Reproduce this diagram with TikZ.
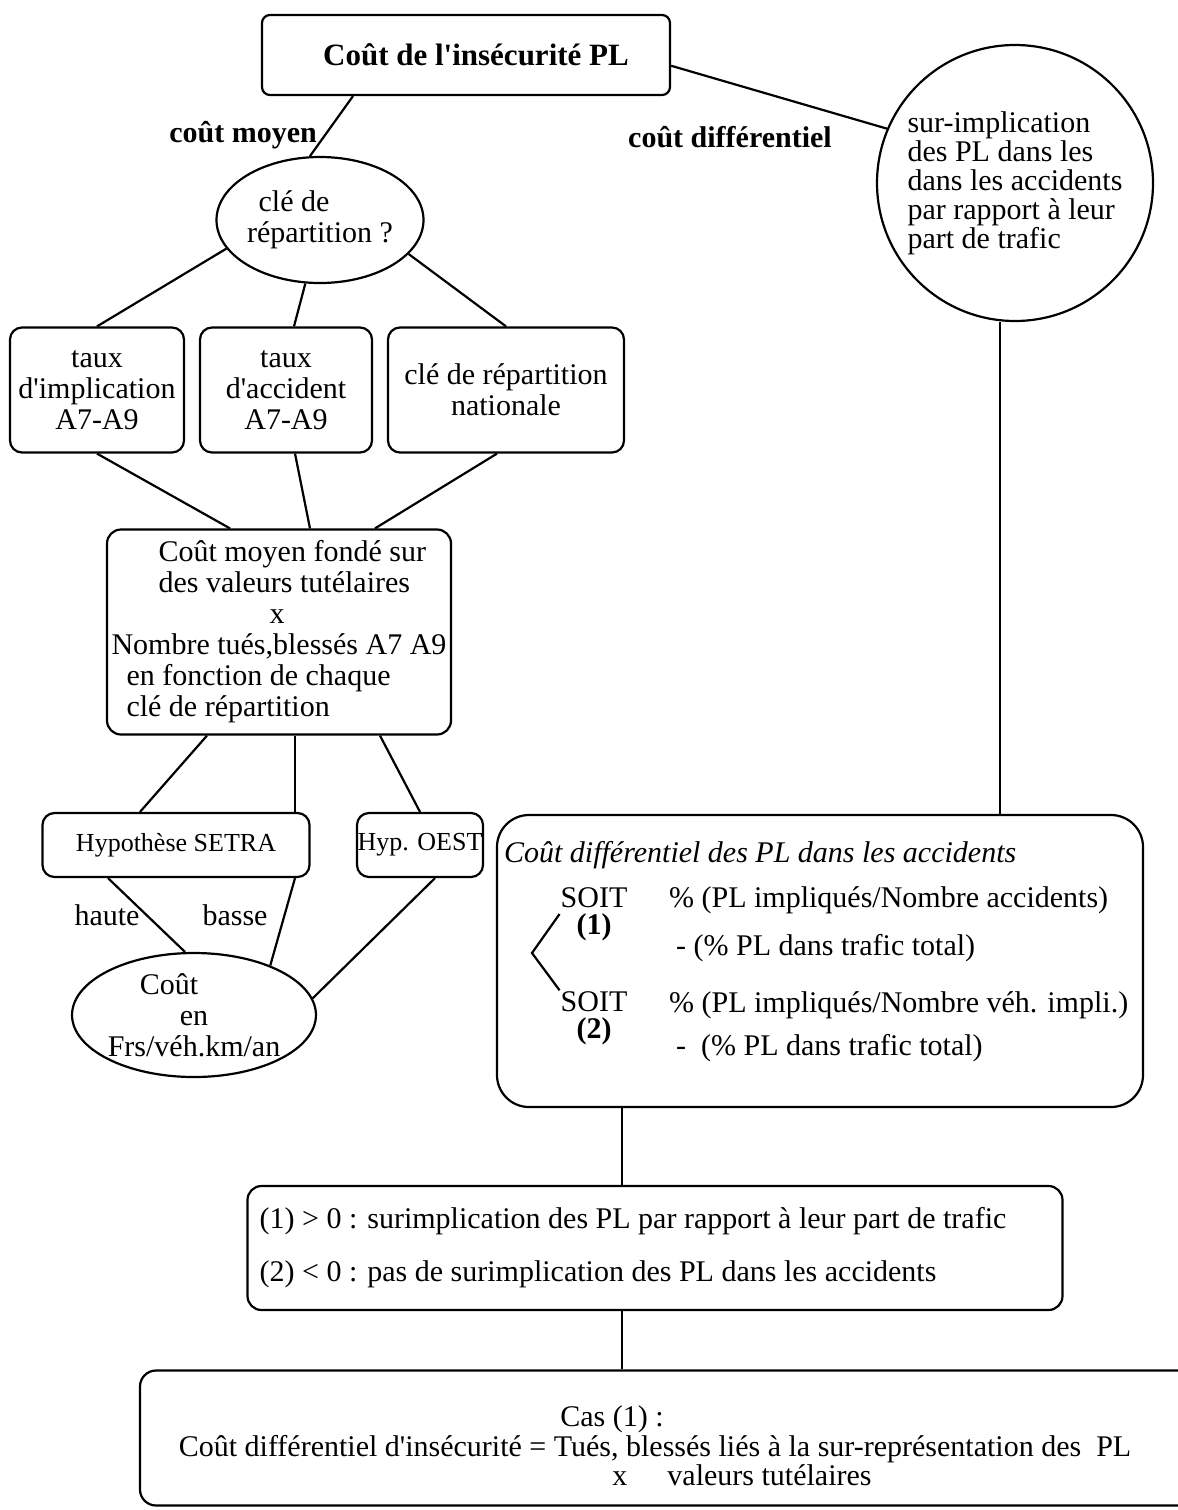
\documentclass[tikz,border=0pt]{standalone}
\usepackage{fontspec}
\setmainfont{Liberation Serif}[Ligatures=TeXOff]
\usetikzlibrary{shapes.geometric}
\begin{document}
\begin{tikzpicture}[x=0.5pt,y=-0.5pt,line width=1.1pt,
 txt/.style={inner sep=0pt,font=\fontsize{15}{15.5}\selectfont},
 box/.style={txt,draw,rounded corners=6pt,align=center},
 boxS/.style={box,font=\fontsize{13}{14}\selectfont},
 oval/.style={txt,draw,shape=ellipse,align=center},
 lblB/.style={txt,font=\fontsize{15}{15.5}\selectfont\bfseries}]
\def\xs{1000};
\def\xd{622};

\clip (0,0) rectangle (1178,1510);

\node[box,font=\fontsize{15.5}{16}\selectfont\bfseries,rounded corners=4pt,minimum width=204pt,minimum height=40pt] (T) at (466,55) {\hspace*{10pt}Coût de l'insécurité PL};
\node[lblB,anchor=east] (mo) at (318,135) {coût moyen};
\node[lblB] (di) at (730,137) {coût différentiel};

\node[oval,minimum width=103.5pt,minimum height=63pt] (K) at (320,220) {clé de\hspace*{26pt}\\répartition ?};
\node[txt,draw,shape=circle,minimum size=138pt,align=left,font=\fontsize{15}{14.5}\selectfont] (S) at (1015,183) {sur-implication\\des PL dans les\\dans les accidents\\par rapport à leur\\part de trafic};

\node[box,minimum width=87pt,minimum height=62.5pt] (B1) at (97,390) {taux\\d'implication\\A7-A9};
\node[box,minimum width=86pt,minimum height=62.5pt] (B2) at (286,390) {taux\\d'accident\\A7-A9};
\node[box,minimum width=118pt,minimum height=62.5pt] (B3) at (506,390) {clé de répartition\\nationale};

\node[box,align=left,rounded corners=7pt,minimum width=172pt,minimum height=102.5pt] (M) at (279,632) {\hspace*{23.5pt}Coût moyen fondé sur\\\hspace*{23.5pt}des valeurs tutélaires\\\hspace*{79pt}x\\Nombre tués,blessés A7 A9\\\hspace*{7.5pt}en fonction de chaque\\\hspace*{7.5pt}clé de répartition};

\node[boxS,minimum width=133.5pt,minimum height=32pt] (SE) at (176,845) {\raisebox{-3pt}{Hypothèse SETRA}};
\node[boxS,minimum width=63pt,minimum height=32pt] (OE) at (420,845) {\raisebox{-3pt}{Hyp. OEST}};
\node[txt] (ha) at (107,915) {haute};
\node[txt] (ba) at (235,915) {basse};
\node[oval,minimum width=103.5pt,minimum height=62pt] (C) at (194,1015) {Coût\hspace*{25pt}\\en\hspace*{9pt}\\Frs/véh.km/an};

\node[draw,rounded corners=16pt,minimum width=323pt,minimum height=146pt] (D) at (820,961) {};
\node[txt,anchor=west,font=\fontsize{15}{15.5}\selectfont\itshape] (dt) at (503,855) {Coût différentiel des PL dans les accidents};
\node[txt,align=center,font=\fontsize{15}{13.5}\selectfont] (soitA) at (594,914) {SOIT\\\textbf{(1)}};
\node[txt,align=center,font=\fontsize{15}{13.5}\selectfont] (soitB) at (594,1018) {SOIT\\\textbf{(2)}};
\node[txt,anchor=west] (fA1) at (668,900) {\% (PL impliqués/Nombre accidents)};
\node[txt,anchor=west] (fA2) at (675,948) {- (\% PL dans trafic total)};
\node[txt,anchor=west] (fB1) at (668,1005) {\% (PL impliqués/Nombre véh. impli.)};
\node[txt,anchor=west] (fB2) at (675,1048) {-~~(\% PL dans trafic total)};
\coordinate (brk) at (532,953);

\node[box,align=left,rounded corners=7pt,minimum width=407.5pt,minimum height=62pt] (E) at (655,1248) {(1) > 0 : surimplication des PL par rapport à leur part de trafic\hspace*{22pt}\\[11pt](2) < 0 : pas de surimplication des PL dans les accidents};

\node[draw,rounded corners=8pt,minimum width=545pt,minimum height=67.5pt] (F) at (685,1438) {};
\node[txt,align=center,font=\fontsize{15}{13}\selectfont] (cas) at (655,1446) {Cas (1) :\hspace*{43pt}\\Coût différentiel d'insécurité = Tués, blessés liés à la sur-représentation des~~PL\\\hspace*{87pt}x\hspace{20pt}valeurs tutélaires};

\draw (T.south -| 353,0) -- (K.99);
\draw (T.-3) -- (S.157);
\draw (K.197) -- (B1.north);
\draw (K.257) -- (B2.north -| 294,0);
\draw (K.-21) -- (B3.north);
\draw (B1.south) -- (M.north -| 230,0);
\draw (B2.south -| 295,0) -- (M.north -| 310,0);
\draw (B3.south -| 497,0) -- (M.north -| 375,0);
\draw (M.south -| 207,0) -- (SE.north -| 140,0);
\draw (M.south -| 295,0) -- (SE.north -| 295,0);
\draw (M.south -| 380,0) -- (OE.north);
\draw (SE.south -| 108,0) -- (C.98);
\draw (SE.south -| 295,0) -- (C.33);
\draw (OE.south -| 435,0) -- (C.8);
\draw (S.south -| \xs,0) -- (D.north -| \xs,0);
\draw (D.south -| \xd,0) -- (E.north -| \xd,0);
\draw (E.south -| \xd,0) -- (F.north -| \xd,0);
\draw (soitA.west) -- (brk) -- (soitB.north west);

\end{tikzpicture}
\end{document}
